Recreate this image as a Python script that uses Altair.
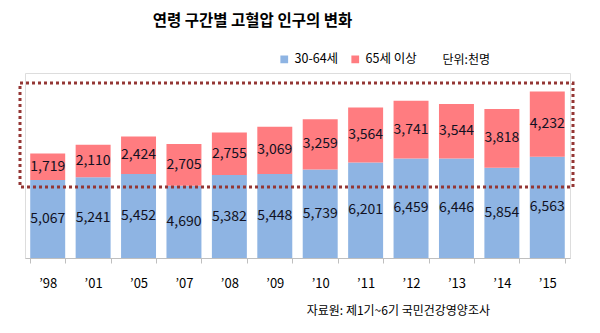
import altair as alt
import pandas as pd

years = ["’98", "’01", "’05", "’07", "’08", "’09", "’10", "’11", "’12", "’13", "’14", "’15"]
age_30_64 = [5067, 5241, 5452, 4690, 5382, 5448, 5739, 6201, 6459, 6446, 5854, 6563]
age_65_plus = [1719, 2110, 2424, 2705, 2755, 3069, 3259, 3564, 3741, 3544, 3818, 4232]
series = ["30-64세", "65세 이상"]
colors = ["#8EB4E3", "#FF7C80"]

rows = []
for i, y in enumerate(years):
    rows.append({"year": y, "group": series[0], "value": age_30_64[i], "ord": 0})
    rows.append({"year": y, "group": series[1], "value": age_65_plus[i], "ord": 1})
df = pd.DataFrame(rows)

FONT = "Noto Sans CJK KR"
W, H = 545, 185

base = alt.Chart(df).transform_stack(
    stack="value", groupby=["year"], as_=["y0", "y1"], sort=[alt.SortField("ord", order="ascending")]
).transform_calculate(mid="(datum.y0 + datum.y1) / 2")

xenc = alt.X("year:N", sort=years,
             scale=alt.Scale(paddingInner=0.23, paddingOuter=0.115),
             axis=alt.Axis(title=None, tickBand="extent", domainColor="#BFBFBF", tickColor="#BFBFBF",
                           tickSize=5, labelAngle=0, labelFont=FONT, labelFontSize=13,
                           labelColor="#000000", labelPadding=14, grid=False))
yscale = alt.Scale(domain=[0, 12000])

bars = base.mark_bar().encode(
    x=xenc,
    y=alt.Y("y0:Q", scale=yscale, axis=None),
    y2="y1:Q",
    color=alt.Color("group:N", scale=alt.Scale(domain=series, range=colors),
                    legend=alt.Legend(title=None, orient="none", legendX=253, legendY=-20,
                                      direction="horizontal", symbolType="square", symbolSize=60,
                                      symbolStrokeWidth=0, labelFont=FONT, labelFontSize=12.5,
                                      labelColor="#000000", columnPadding=10, symbolOffset=0)),
)

labels = base.mark_text(font=FONT, fontSize=14, color="#111122").encode(
    x=alt.X("year:N", sort=years),
    y=alt.Y("mid:Q", scale=yscale),
    text=alt.Text("value:Q", format=","),
)

box = alt.Chart(pd.DataFrame({"k": [0]})).mark_rect(
    fill=None, stroke="#943634", strokeWidth=3, strokeDash=[3, 3]
).encode(x=alt.value(-5), x2=alt.value(548), y=alt.value(10), y2=alt.value(114))

unit = alt.Chart(pd.DataFrame({"t": ["단위:천명"]})).mark_text(
    font=FONT, fontSize=12, align="right", baseline="middle", color="#000000"
).encode(x=alt.value(465), y=alt.value(-13), text="t:N")

source = alt.Chart(pd.DataFrame({"t": ["자료원: 제1기~6기 국민건강영양조사"]})).mark_text(
    font=FONT, fontSize=12, align="right", baseline="middle", color="#000000"
).encode(x=alt.value(465), y=alt.value(238), text="t:N")

chart = alt.layer(bars, labels, box, unit, source).properties(
    width=W, height=H,
    title=alt.TitleParams("연령 구간별 고혈압 인구의 변화", font=FONT, fontSize=15.5, fontWeight="bold",
                          anchor="middle", dx=-45, offset=24, color="#000000"),
    autosize=alt.AutoSizeParams(type="none"),
    padding={"left": 25, "top": 73, "right": 30, "bottom": 75},
).configure_view(stroke=None).configure(background="white")

chart.save("out.html", embed_options={"renderer": "svg", "actions": False})
